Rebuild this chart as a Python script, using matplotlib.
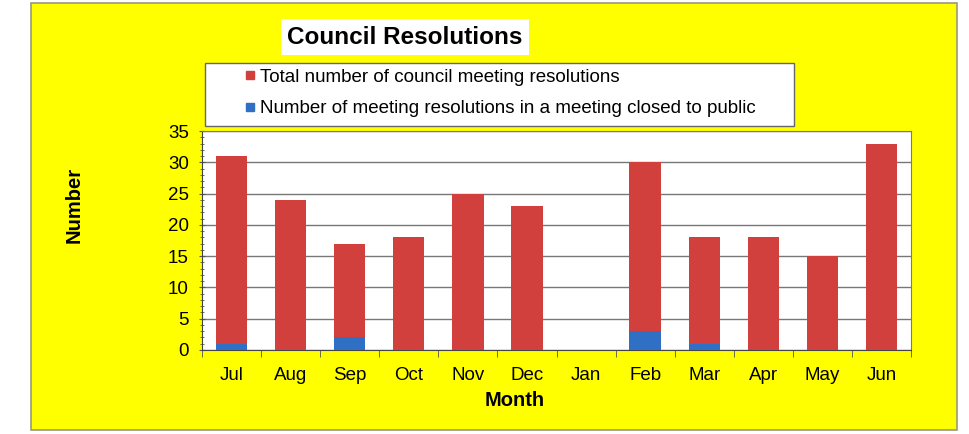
import matplotlib.pyplot as plt
from matplotlib.patches import Rectangle
from matplotlib.lines import Line2D
from matplotlib.ticker import MultipleLocator, FixedLocator

plt.rcParams["font.family"] = ["Liberation Sans", "DejaVu Sans"]

months = ["Jul", "Aug", "Sep", "Oct", "Nov", "Dec", "Jan", "Feb", "Mar", "Apr", "May", "Jun"]
total = [31, 24, 17, 18, 25, 23, 0, 30, 18, 18, 15, 33]
closed = [1, 0, 2, 0, 0, 0, 0, 3, 1, 0, 0, 0]

RED = "#d1403c"
BLUE = "#2f6fc4"
YELLOW = "#ffff00"

fig = plt.figure(figsize=(9.69, 4.34), dpi=100, facecolor="white")
W, H = 969, 434

# yellow chart area with grey border, kept behind the axes
fig.patches.append(Rectangle((31 / W, 1 - 430 / H), (957 - 31) / W, (430 - 3) / H,
	transform=fig.transFigure, facecolor=YELLOW, edgecolor="#9a9a7a", linewidth=1.2, zorder=-10))

# legend box (drawn separately so the entries can sit indented)
fig.patches.append(Rectangle((205 / W, 1 - 126 / H), (794 - 205) / W, (126 - 63) / H,
	transform=fig.transFigure, facecolor="white", edgecolor="#666666", linewidth=1.0, zorder=-5))

ax = fig.add_axes([202 / W, 1 - 350 / H, (911 - 202) / W, (350 - 131) / H])
ax.set_facecolor("white")

x = list(range(len(months)))
ax.bar(x, total, width=0.53, color=RED, zorder=3)
ax.bar(x, closed, width=0.53, color=BLUE, zorder=4)

ax.set_xlim(-0.5, len(months) - 0.5)
ax.set_ylim(0, 35)
ax.yaxis.set_major_locator(MultipleLocator(5))
ax.yaxis.set_minor_locator(MultipleLocator(1))
ax.grid(axis="y", which="major", color="#777777", linewidth=1.0, zorder=1)

ax.set_xticks(x)
ax.set_xticklabels(months)
ax.xaxis.set_minor_locator(FixedLocator([i + 0.5 for i in range(-1, len(months))]))
ax.tick_params(axis="x", which="major", length=0, pad=12, labelsize=13.5)
ax.tick_params(axis="x", which="minor", length=5, direction="out", color="#555555")
ax.tick_params(axis="y", which="major", length=5, direction="inout", labelsize=13.5, pad=7, color="#555555")
ax.tick_params(axis="y", which="minor", length=3, direction="inout", color="#555555")

for side in ["top", "right", "bottom", "left"]:
	ax.spines[side].set_color("#7a7a7a")
ax.spines["left"].set_color("#444444")
ax.spines["bottom"].set_color("#444444")

fig.text(74 / W, 1 - 205 / H, "Number", rotation=90, ha="center", va="center",
	fontsize=14.5, fontweight="bold")
fig.text(515 / W, 1 - 401 / H, "Month", ha="center", va="center",
	fontsize=14.5, fontweight="bold")

fig.text(405 / W, 1 - 37 / H, "Council Resolutions", ha="center", va="center",
	fontsize=17.5, fontweight="bold",
	bbox=dict(facecolor="white", edgecolor="none", boxstyle="square,pad=0.28"))

handles = [
	Line2D([], [], linestyle="none", marker="s", markersize=6, color=RED),
	Line2D([], [], linestyle="none", marker="s", markersize=6, color=BLUE),
]
labels = [
	"Total number of council meeting resolutions",
	"Number of meeting resolutions in a meeting closed to public",
]
leg = fig.legend(handles, labels, loc="center left",
	bbox_to_anchor=(237 / W, 1 - 93 / H),
	fontsize=13.5, frameon=False,
	handlelength=0.7, handletextpad=0.15, borderpad=0.35, labelspacing=0.75,
	borderaxespad=0)

fig.savefig("out.png", dpi=100, facecolor=fig.get_facecolor())
